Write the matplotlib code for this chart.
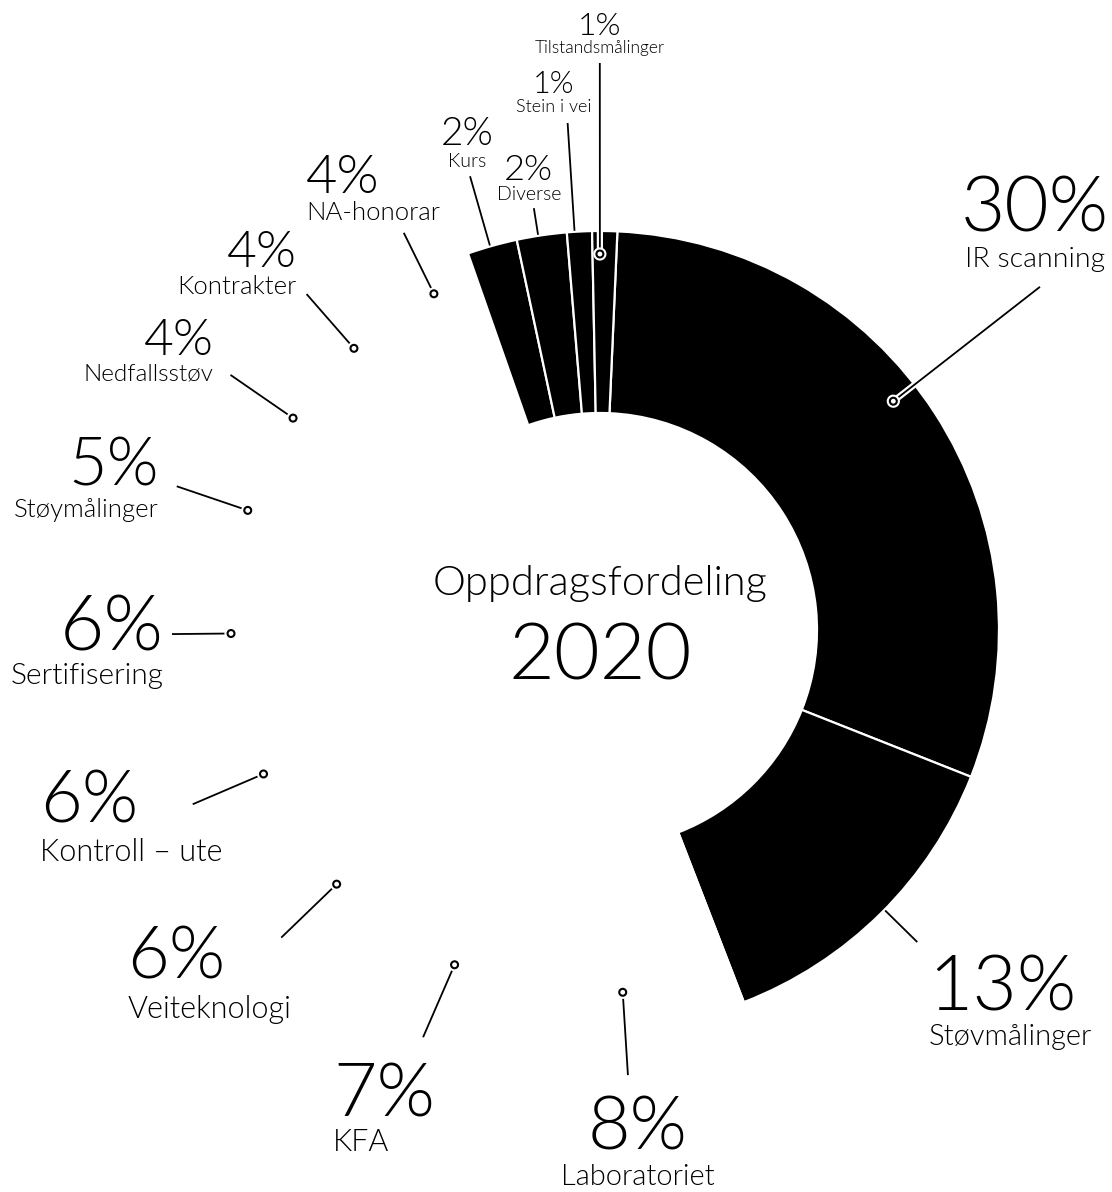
import numpy as np
import matplotlib.pyplot as plt
import matplotlib.patheffects as pe

# Oppdragsfordeling 2020 (prosent)
categories = ['IR scanning', 'Støvmålinger', 'Laboratoriet', 'KFA', 'Veiteknologi',
              'Kontroll – ute', 'Sertifisering', 'Støymålinger', 'Nedfallsstøv',
              'Kontrakter', 'NA-honorar', 'Kurs', 'Diverse', 'Stein i vei',
              'Tilstandsmålinger']
shares = [30, 13, 8, 7, 6, 6, 6, 5, 4, 4, 4, 2, 2, 1, 1]
highlighted = [True, True, False, False, False, False, False, False, False,
               False, False, True, True, True, True]

# label layout: angle nudge, dot radius, line end radius, ha, dx, dy pct, dy name,
# pct fontsize, name fontsize, has dot
layout = [
    (-5.0, 372, 558, 'center', -5, -55, -20, 55, 20.5, True),
    (-0.7, 0, 445, 'left', 11, 68, 103, 55, 21, False),
    (3.0, 363, 446, 'center', 10, 74, 110, 53, 21, True),
    (2.8, 365, 444, 'left', -90, 79, 114, 54, 22, True),
    (1.7, 366, 443, 'left', -154, 41, 80, 52, 22, True),
    (0.7, 366, 443, 'left', -153, 18, 57, 52, 22, True),
    (1.5, 369, 428, 'right', -8, 16, 50, 55, 21.5, True),
    (0.8, 372, 447, 'right', -18, -1, 31, 48, 18.5, True),
    (0.3, 373, 449, 'right', -17, -20, 6, 37, 17.5, True),
    (0.0, 374, 446, 'right', -10, -27, 0, 37, 18.5, True),
    (0.3, 375, 443, 'left', -98, -40, -13, 39, 18.5, True),
    (-0.3, 0, 472, 'center', -3, -31, -9, 28, 14, False),
    (-0.5, 0, 427, 'center', -5, -28, -8, 26, 14, False),
    (-0.7, 0, 508, 'center', -14, -30, -11, 22, 13, False),
    (-0.7, 376, 567, 'center', 0, -28, -10, 23, 12.5, True),
]

plt.rcParams['font.family'] = ['Lato', 'DejaVu Sans']
plt.rcParams['font.weight'] = 300

W, H = 1112, 1192
fig = plt.figure(figsize=(W / 100, H / 100), dpi=100)
ax = fig.add_axes([0, 0, 1, 1])

cx, cy = 600, 630
R, ring = 399, 182
start = 2.5  # degrees clockwise from 12 o'clock

colors = ['black' if h else 'white' for h in highlighted]
# y axis is inverted below, so counterclock=True runs clockwise on screen
ax.pie(shares, colors=colors, radius=R, center=(cx, cy), startangle=start - 90,
       counterclock=True, wedgeprops=dict(width=ring, edgecolor='white', linewidth=1.6))
ax.set_xlim(0, W)
ax.set_ylim(H, 0)
ax.axis('off')

total = sum(shares)
mid = start + (np.cumsum(shares) - np.array(shares) / 2) / total * 360
halo = [pe.withStroke(linewidth=4.5, foreground='white')]

for i, name in enumerate(categories):
    nudge, r0, r1, ha, dx, dy_pct, dy_name, fs_pct, fs_name, dot = layout[i]
    phi = np.radians(mid[i] + nudge)
    ux, uy = np.sin(phi), -np.cos(phi)
    if dot:
        ax.plot(cx + r0 * ux, cy + r0 * uy, 'o', ms=5, mfc='none', mec='black',
                mew=1.5, path_effects=halo, zorder=4)
        rs = r0 + 5
        fx = halo
    else:
        rs = R + 1
        fx = None
    ax.plot([cx + rs * ux, cx + r1 * ux], [cy + rs * uy, cy + r1 * uy], color='black',
            lw=1.3, solid_capstyle='butt', path_effects=fx, zorder=3)
    ex, ey = cx + r1 * ux, cy + r1 * uy
    ax.text(ex + dx, ey + dy_pct, f'{shares[i]}%', ha=ha, va='baseline', fontsize=fs_pct,
            color='black')
    ax.text(ex + dx, ey + dy_name, name, ha=ha, va='baseline', fontsize=fs_name,
            color='black')

ax.text(cx, 595, 'Oppdragsfordeling', ha='center', va='baseline', fontsize=30)
ax.text(cx, 680, '2020', ha='center', va='baseline', fontsize=57)

plt.savefig('out.png', dpi=100)
